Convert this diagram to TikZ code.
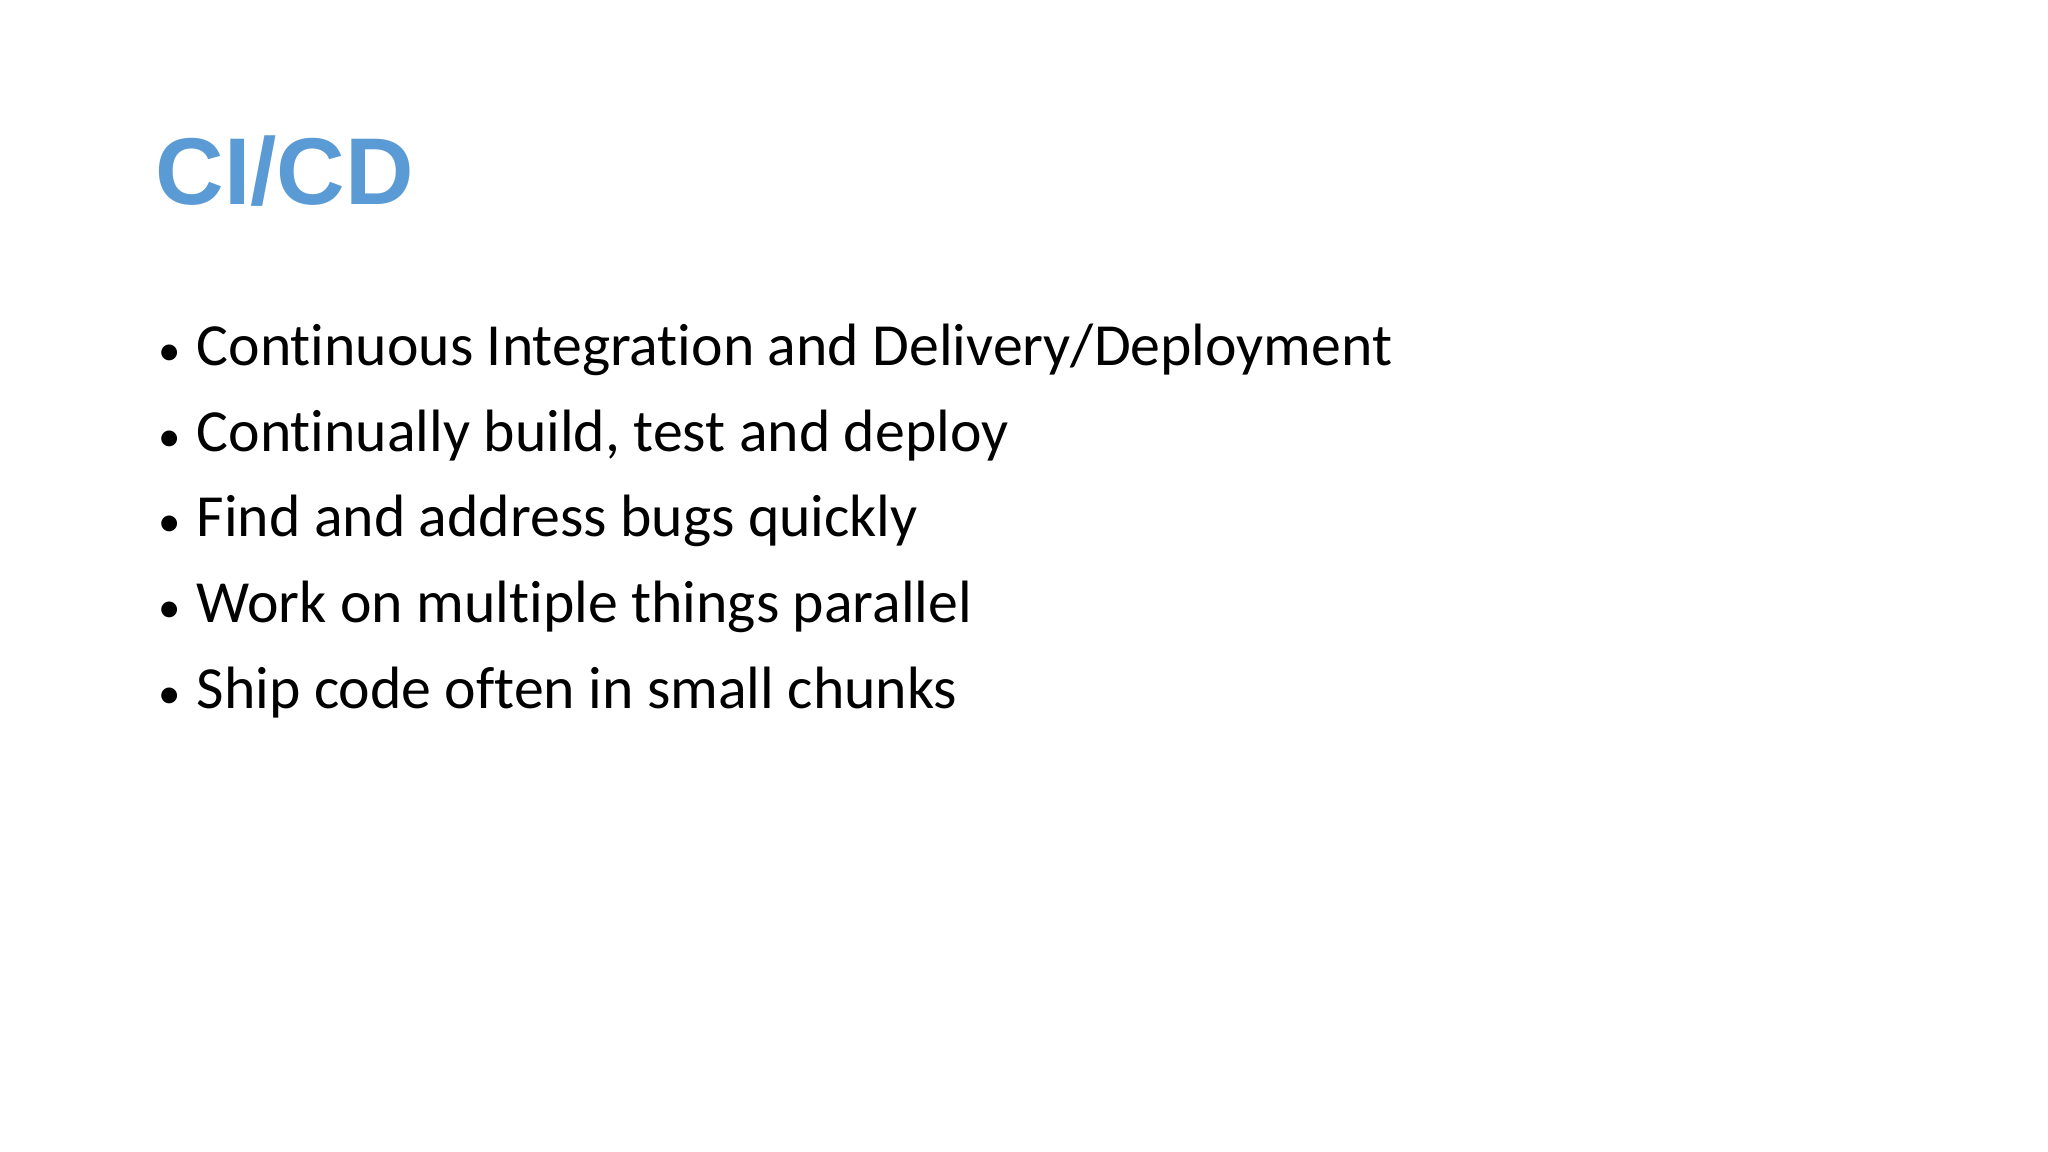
\documentclass[tikz,border=0pt]{standalone}
\usepackage{fontspec}
\setmainfont{Carlito}[RawFeature=-liga]
\newfontfamily\titlefont{Liberation Sans}
\definecolor{titleblue}{HTML}{5B9BD5}
\tikzset{bul/.style={anchor=base west,inner sep=0pt,font=\fontsize{17}{20}\selectfont},
 ttl/.style={anchor=base west,inner sep=0pt,text=titleblue,font=\titlefont\bfseries\fontsize{27}{32}\selectfont}}
\begin{document}
\begin{tikzpicture}[x=1cm,y=1cm]
\useasboundingbox[fill=white] (0,0) rectangle (20.48,11.52);
\node[ttl] (title) at (1.55,9.47) {CI/CD};
\foreach \i/\t [count=\n] in {3.66/{Continuous Integration and Delivery/Deployment},4.52/{Continually build, test and deploy},5.37/{Find and address bugs quickly},6.23/{Work on multiple things parallel},7.09/{Ship code often in small chunks}}{
  \node[bul] (b\n) at (1.58,11.52-\i) {\scalebox{0.75}{\textbullet}};
  \node[bul] (t\n) at (1.96,11.52-\i) {\t};
}
\end{tikzpicture}
\end{document}
